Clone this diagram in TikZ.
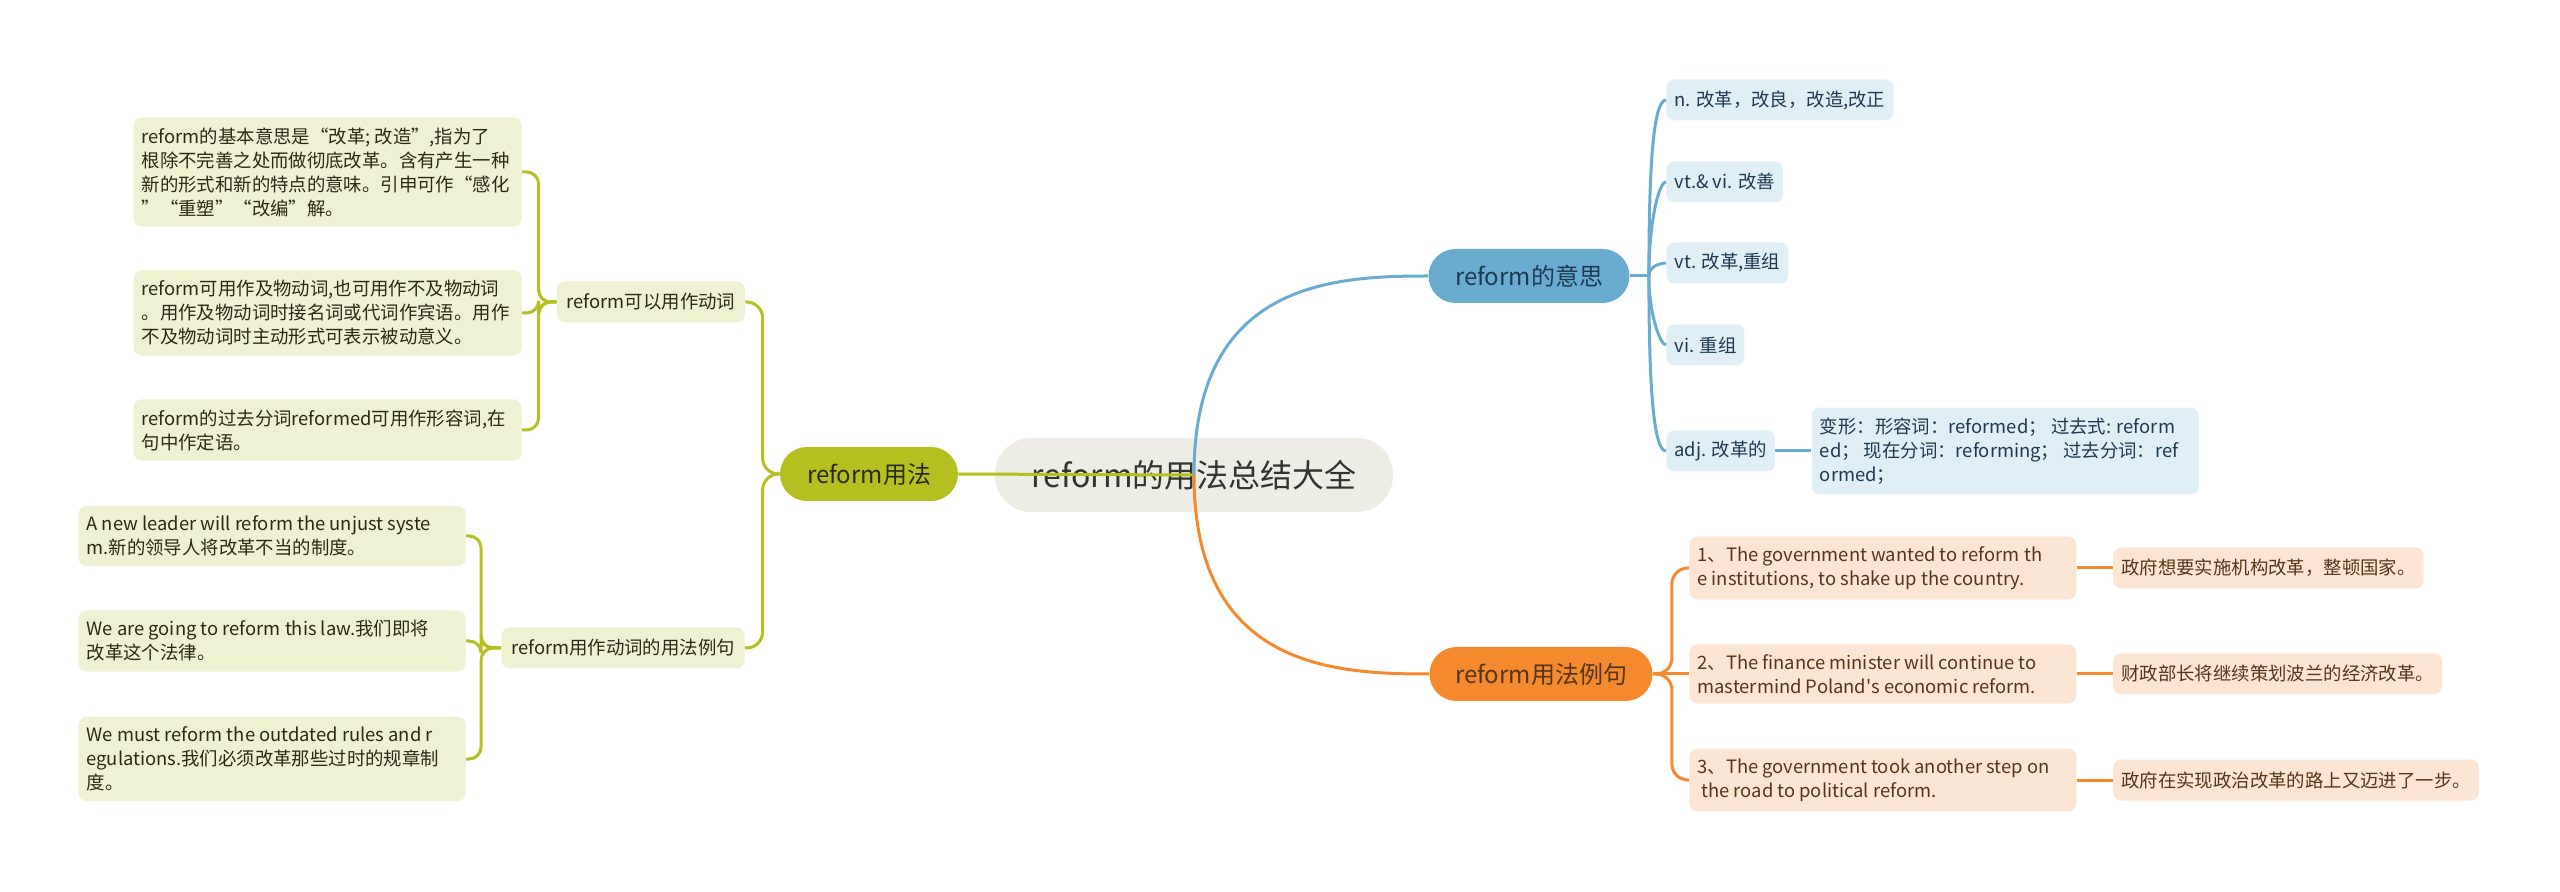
\documentclass[tikz,border=0pt]{standalone}
\usepackage{fontspec}
\setmainfont{Noto Sans CJK SC}
\newfontfamily\plainlatin{Noto Sans CJK SC}
\usepackage{xcolor}
\usepackage{tikz}
\usetikzlibrary{positioning}

\definecolor{rootfill}{HTML}{EEEDE5}
\definecolor{roottext}{HTML}{333333}
\definecolor{greenmain}{HTML}{B5BF1F}
\definecolor{greenleaf}{HTML}{EFF1D3}
\definecolor{greentext}{HTML}{2B2B14}
\definecolor{bluemain}{HTML}{6AACCF}
\definecolor{blueleaf}{HTML}{E0EEF5}
\definecolor{bluetext}{HTML}{1F3A50}
\definecolor{orangemain}{HTML}{F5892D}
\definecolor{orangeleaf}{HTML}{FDE5D3}
\definecolor{orangetext}{HTML}{55361A}

\tikzset{
  topic/.style={rounded corners=18pt, fill=rootfill, text=roottext, font=\fontsize{16}{19}\selectfont, minimum width=199pt, minimum height=37pt, inner sep=0pt},
  branch/.style={rounded corners=13.5pt, minimum height=27pt, inner sep=0pt, font=\fontsize{12}{14}\selectfont},
  leaf/.style={rounded corners=4pt, minimum height=20.5pt, inner xsep=4pt, inner ysep=5pt, align=flush left, font=\fontsize{9.2}{12}\selectfont},
  gleaf/.style={leaf, fill=greenleaf, text=greentext},
  bleaf/.style={leaf, fill=blueleaf, text=bluetext},
  oleaf/.style={leaf, fill=orangeleaf, text=orangetext},
  link/.style={line width=1.5pt},
}

\begin{document}
\begin{tikzpicture}[x=0.5pt, y=0.5pt, node distance=18pt]
\useasboundingbox (0,0) rectangle (2560,-892);

\node[topic] (root) at (1194,-475) {reform的用法总结大全};
\node[branch, fill=greenmain, text=greentext, minimum width=89pt] (usage) at (869,-474) {reform用法};
\node[branch, fill=bluemain, text=bluetext, minimum width=100.5pt] (meaning) at (1529,-276) {reform的意思};
\node[branch, fill=orangemain, text=orangetext, minimum width=111.5pt] (examples) at (1541,-674) {reform用法例句};

\node[gleaf, minimum width=94pt] (verb) at (651,-302) {reform可以用作动词};
\node[gleaf, minimum width=121.5pt] (verbex) at (623,-648) {reform用作动词的用法例句};

\node[gleaf, text width=186pt, anchor=east] (v1) at (522,-172) {reform的基本意思是“改革; 改造”,指为了\\根除不完善之处而做彻底改革。含有产生一种\\新的形式和新的特点的意味。引申可作“感化\\”“重塑”“改编”解。};
\node[gleaf, text width=186pt, anchor=east] (v2) at (522,-313) {reform可用作及物动词,也可用作不及物动词\\。用作及物动词时接名词或代词作宾语。用作\\不及物动词时主动形式可表示被动意义。};
\node[gleaf, text width=186pt, anchor=east] (v3) at (522,-430) {reform的过去分词reformed可用作形容词,在\\句中作定语。};

\node[gleaf, text width=185.5pt, anchor=east] (e1) at (466,-536) {A new leader will reform the unjust syste\\m.新的领导人将改革不当的制度。};
\node[gleaf, text width=185.5pt, anchor=east] (e2) at (466,-641) {We are going to reform this law.我们即将\\改革这个法律。};
\node[gleaf, text width=185.5pt, anchor=east] (e3) at (466,-759) {We must reform the outdated rules and r\\egulations.我们必须改革那些过时的规章制\\度。};

\node[bleaf, anchor=west] (b1) at (1666,-100) {n. 改革，改良，改造,改正};
\node[bleaf, anchor=west] (b2) at (1666,-182) {vt.\& vi. 改善};
\node[bleaf, anchor=west] (b3) at (1666,-263) {vt. 改革,重组};
\node[bleaf, anchor=west] (b4) at (1666,-345) {vi. 重组};
\node[bleaf, anchor=west] (b5) at (1666,-451) {adj. 改革的};
\node[bleaf, text width=185.5pt, right=of b5] (b6) {变形：形容词：reformed； 过去式: reform\\ed； 现在分词：reforming； 过去分词：ref\\ormed；};

\node[oleaf, text width=185.5pt, anchor=west] (o1) at (1689,-568) {1、The government wanted to reform th\\e institutions, to shake up the country.};
\node[oleaf, text width=185.5pt, anchor=west] (o2) at (1689,-674) {2、The finance minister will continue to\\mastermind Poland{\plainlatin'}s economic reform.};
\node[oleaf, text width=185.5pt, anchor=west] (o3) at (1689,-780) {3、The government took another step on\\\ the road to political reform.};
\node[oleaf, right=of o1] (t1) {政府想要实施机构改革，整顿国家。};
\node[oleaf, right=of o2] (t2) {财政部长将继续策划波兰的经济改革。};
\node[oleaf, right=of o3] (t3) {政府在实现政治改革的路上又迈进了一步。};

\draw[link, greenmain] (root.center) -- (usage.east);
\draw[link, bluemain] (root.center) to[out=90, in=180, out looseness=1.6, in looseness=0.8] (meaning.west);
\draw[link, orangemain] (root.center) to[out=-90, in=180, out looseness=1.6, in looseness=0.8] (examples.west);

\draw[link, greenmain, rounded corners=8pt] (usage.west) -- ++(-17,0) |- (verb.east);
\draw[link, greenmain, rounded corners=8pt] (usage.west) -- ++(-17,0) |- (verbex.east);
\draw[link, greenmain, rounded corners=6pt] (verb.west) -- ++(-18,0) |- (v1.east);
\draw[link, greenmain, rounded corners=6pt] (verb.west) -- ++(-18,0) |- (v2.east);
\draw[link, greenmain, rounded corners=6pt] (verb.west) -- ++(-18,0) |- (v3.east);
\draw[link, greenmain, rounded corners=6pt] (verbex.west) -- ++(-20,0) |- (e1.east);
\draw[link, greenmain, rounded corners=6pt] (verbex.west) -- ++(-20,0) |- (e2.east);
\draw[link, greenmain, rounded corners=6pt] (verbex.west) -- ++(-20,0) |- (e3.east);

\draw[link, bluemain] (meaning.east) -- ++(19,0) coordinate (bj);
\draw[link, bluemain] (bj) to[out=90, in=180, out looseness=1.4, in looseness=0.2] (b1.west);
\draw[link, bluemain] (bj) to[out=90, in=180, out looseness=1.4, in looseness=0.2] (b2.west);
\draw[link, bluemain] (bj) to[out=90, in=180, out looseness=1.4, in looseness=0.2] (b3.west);
\draw[link, bluemain] (bj) to[out=-90, in=180, out looseness=1.4, in looseness=0.2] (b4.west);
\draw[link, bluemain] (bj) to[out=-90, in=180, out looseness=1.4, in looseness=0.2] (b5.west);
\draw[link, bluemain] (b5) -- (b6);

\draw[link, orangemain, rounded corners=8pt] (examples.east) -- ++(19,0) |- (o1.west);
\draw[link, orangemain] (examples.east) -- (o2.west);
\draw[link, orangemain, rounded corners=8pt] (examples.east) -- ++(19,0) |- (o3.west);
\draw[link, orangemain] (o1) -- (t1);
\draw[link, orangemain] (o2) -- (t2);
\draw[link, orangemain] (o3) -- (t3);
\end{tikzpicture}
\end{document}
